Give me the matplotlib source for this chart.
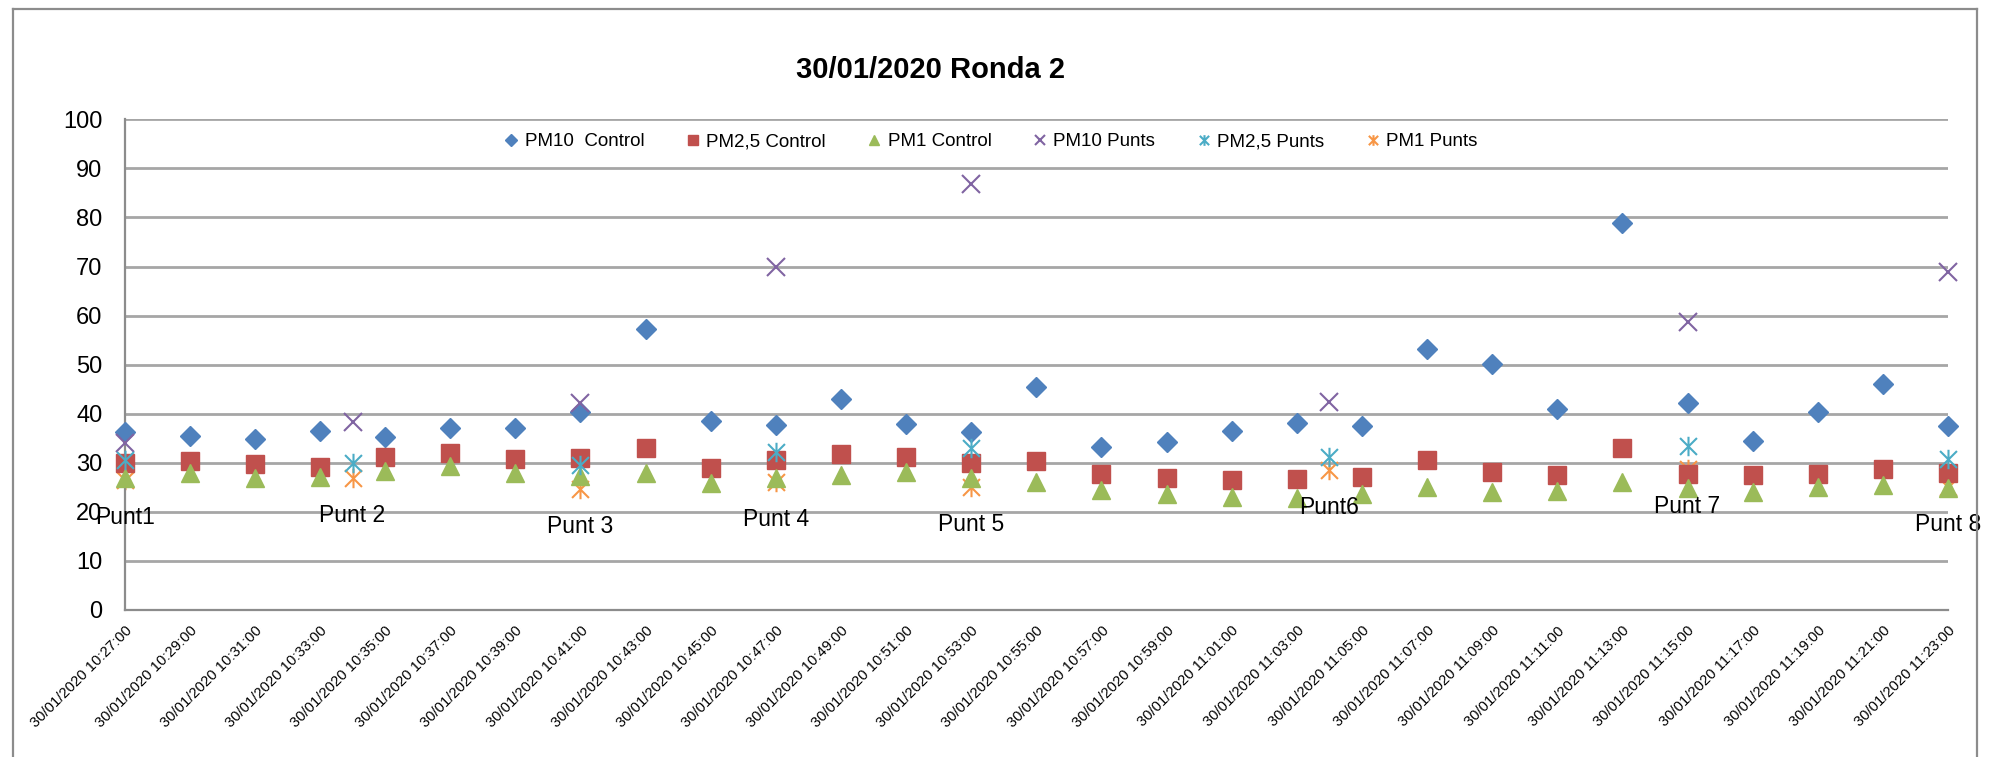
import matplotlib
matplotlib.use("Agg")
import matplotlib.pyplot as plt
from matplotlib.path import Path
from matplotlib.lines import Line2D

plt.rcParams['font.family'] = ['Liberation Sans', 'DejaVu Sans']

# ---------------- data ----------------
control_times = ["10:27", "10:29", "10:31", "10:33", "10:35", "10:37", "10:39", "10:41",
                 "10:43", "10:45", "10:47", "10:49", "10:51", "10:53", "10:55", "10:57",
                 "10:59", "11:01", "11:03", "11:05", "11:07", "11:09", "11:11", "11:13",
                 "11:15", "11:17", "11:19", "11:21", "11:23"]
pm10_control = [36.3, 35.4, 34.8, 36.5, 35.2, 37.1, 37.1, 40.4, 57.2, 38.6, 37.7, 42.9,
                37.9, 36.3, 45.4, 33.1, 34.3, 36.5, 38.0, 37.5, 53.1, 50.1, 40.9, 78.9,
                42.2, 34.4, 40.3, 46.0, 37.5]
pm25_control = [30.0, 30.3, 29.7, 29.2, 31.2, 31.9, 30.7, 31.0, 32.9, 29.0, 30.5, 31.8,
                31.2, 29.9, 30.3, 27.6, 26.9, 26.5, 26.7, 27.1, 30.5, 28.0, 27.5, 33.0,
                27.6, 27.5, 27.6, 28.8, 27.8]
pm1_control = [26.8, 27.8, 26.8, 27.0, 28.4, 29.3, 27.9, 27.3, 27.8, 25.8, 26.8, 27.5,
               28.2, 26.8, 26.1, 24.4, 23.7, 23.1, 22.7, 23.7, 25.1, 24.1, 24.3, 26.1,
               24.8, 24.1, 25.1, 25.4, 24.8]

punt_times = ["10:27", "10:34", "10:41", "10:47", "10:53", "11:04", "11:15", "11:23"]
punt_labels = ["Punt1", "Punt 2", "Punt 3", "Punt 4", "Punt 5", "Punt6", "Punt 7", "Punt 8"]
pm10_punts = [34.0, 38.2, 42.2, 70.0, 86.8, 42.4, 58.7, 68.9]
pm25_punts = [30.5, 30.0, 29.5, 32.2, 32.9, 31.2, 33.5, 30.7]
pm1_punts = [26.5, 26.8, 24.6, 26.1, 25.1, 28.5, 28.8, 25.1]

date_str = "30/01/2020"
title = "30/01/2020 Ronda 2"
y_ticks = list(range(0, 101, 10))


def to_min(t):
    h, m = map(int, t.split(":"))
    return (h - 10) * 60 + m - 27


xc = [to_min(t) for t in control_times]
xp = [to_min(t) for t in punt_times]

# ---------------- figure ----------------
W, H = 1994, 757
fig = plt.figure(figsize=(W / 100, H / 100), dpi=100)
fig.patch.set_facecolor("white")

# outer chart border
fig.add_artist(Line2D([13 / W, 13 / W], [0, 1 - 9 / H], transform=fig.transFigure,
                      color="#8c8c8c", lw=1.6))
fig.add_artist(Line2D([1977 / W, 1977 / W], [0, 1 - 9 / H], transform=fig.transFigure,
                      color="#8c8c8c", lw=1.6))
fig.add_artist(Line2D([13 / W, 1977 / W], [1 - 9 / H, 1 - 9 / H], transform=fig.transFigure,
                      color="#8c8c8c", lw=1.6))

left, right = 124.6 / W, 1948 / W
bottom, top = 1 - 609.8 / H, 1 - 119.4 / H
ax = fig.add_axes([left, bottom, right - left, top - bottom])

star = Path([(-1, -1), (1, 1), (-1, 1), (1, -1), (0, -1.15), (0, 1.15)],
            [Path.MOVETO, Path.LINETO, Path.MOVETO, Path.LINETO, Path.MOVETO, Path.LINETO])

ax.plot(xc, pm10_control, ls="none", marker="D", ms=10.5, color="#4F81BD",
        label="PM10  Control", clip_on=False, zorder=3)
ax.plot(xc, pm25_control, ls="none", marker="s", ms=13, color="#C0504D",
        label="PM2,5 Control", clip_on=False, zorder=3)
ax.plot(xc, pm1_control, ls="none", marker="^", ms=13, color="#9BBB59",
        label="PM1 Control", clip_on=False, zorder=3)
ax.plot(xp, pm10_punts, ls="none", marker="x", ms=13, mew=1.5, color="#8064A2",
        label="PM10 Punts", clip_on=False, zorder=4)
ax.plot(xp, pm25_punts, ls="none", marker=star, ms=14, mew=1.5, color="#4BACC6",
        label="PM2,5 Punts", clip_on=False, zorder=4)
ax.plot(xp, pm1_punts, ls="none", marker=star, ms=14, mew=1.5, color="#F79646",
        label="PM1 Punts", clip_on=False, zorder=2.5)

for x, y, lab in zip(xp, pm1_punts, punt_labels):
    ax.annotate(lab, (x, y), xytext=(0, -27), textcoords="offset points",
                ha="center", va="center", fontsize=16.5, color="black",
                annotation_clip=False, zorder=5)

ax.set_xlim(xc[0], xc[-1])
ax.set_ylim(0, 100)
ax.set_yticks(y_ticks)
ax.set_yticklabels([str(v) for v in y_ticks], fontsize=17)
ax.set_xticks(xc)
ax.set_xticklabels([f"{date_str} {t}:00" for t in control_times], fontsize=10.6,
                   rotation=45, ha="right", va="top", rotation_mode="anchor")
ax.tick_params(axis="y", length=0, pad=16)
ax.tick_params(axis="x", length=0, pad=10)

ax.yaxis.grid(True, color="#a6a6a6", lw=2)
ax.set_axisbelow(True)
for s in ["top", "right"]:
    ax.spines[s].set_visible(False)
ax.spines["left"].set_color("#8c8c8c")
ax.spines["left"].set_linewidth(1.6)
ax.spines["bottom"].set_color("#8c8c8c")
ax.spines["bottom"].set_linewidth(1.6)

leg = ax.legend(loc="center", bbox_to_anchor=(0.475, 0.9545), ncol=6, frameon=False,
                fontsize=13.5, markerscale=0.55, handlelength=0.8, handletextpad=0.3,
                columnspacing=2.2)

fig.text(930 / W, 1 - 70 / H, title, ha="center", va="center", fontsize=21,
         fontweight="bold")

fig.savefig("out.png", dpi=100, facecolor="white")
